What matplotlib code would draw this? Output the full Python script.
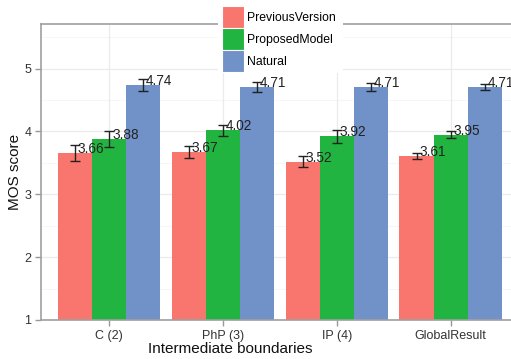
import matplotlib
matplotlib.use("Agg")
import matplotlib.pyplot as plt
import numpy as np
from matplotlib.patches import Patch, Rectangle

categories = ["C (2)", "PhP (3)", "IP (4)", "GlobalResult"]
series = ["PreviousVersion", "ProposedModel", "Natural"]
previous = [3.66, 3.67, 3.52, 3.61]
proposed = [3.88, 4.02, 3.92, 3.95]
natural = [4.74, 4.71, 4.71, 4.71]
previous_err = [0.125, 0.095, 0.09, 0.055]
proposed_err = [0.12, 0.09, 0.10, 0.055]
natural_err = [0.10, 0.075, 0.065, 0.045]

colors = ["#F8766D", "#22B440", "#7191C9"]
values = [previous, proposed, natural]
errors = [previous_err, proposed_err, natural_err]

plt.rcParams["font.family"] = ["Liberation Sans", "DejaVu Sans"]

fig = plt.figure(figsize=(5.11, 3.59), dpi=100)
W, H = 511, 359
left, right, top, bottom = 41, 511, 24, 320
ax = fig.add_axes([left / W, 1 - bottom / H, (right - left) / W, (bottom - top) / H])

x = np.arange(1, len(categories) + 1)
width = 0.3
ax.set_xlim(0.4, 4.53)
ax.set_ylim(1, 5.71)

# grid
for yv in [1, 2, 3, 4, 5]:
    ax.axhline(yv, color="#EBEBEB", lw=0.9, zorder=0)
for yv in [1.5, 2.5, 3.5, 4.5, 5.5]:
    ax.axhline(yv, color="#F5F5F5", lw=0.6, zorder=0)
for xv in x:
    ax.axvline(xv, color="#EBEBEB", lw=0.9, zorder=0)

for i, (vals, errs, col) in enumerate(zip(values, errors, colors)):
    pos = x + (i - 1) * width
    ax.bar(pos, np.array(vals) - 1, width, bottom=1, color=col, zorder=2)
    ax.errorbar(pos, vals, yerr=errs, fmt="none", ecolor="#222222",
                elinewidth=1.0, capsize=3.5, capthick=1.0, zorder=3)
    for p, v in zip(pos, vals):
        ax.annotate(f"{v:.2f}", (p, v), xytext=(2.0, 0), textcoords="offset points",
                    ha="left", va="baseline", fontsize=9.8, color="#222222", zorder=4)

ax.set_xticks(x)
ax.set_xticklabels(categories)
ax.set_yticks([1, 2, 3, 4, 5])
ax.tick_params(axis="both", colors="#999999", labelcolor="#333333", labelsize=9,
               length=4, width=1, pad=3)
for s in ["left", "bottom", "top"]:
    ax.spines[s].set_color("#A0A0A0")
    ax.spines[s].set_linewidth(1.2)
ax.spines["right"].set_visible(False)

ax.set_ylabel("MOS score", fontsize=11, color="#111111")
ax.set_xlabel("Intermediate boundaries", fontsize=11, color="#111111")
ax.yaxis.set_label_coords(-(41 - 22) / 470, 0.5)
ax.xaxis.set_label_coords((230 - 41) / 470, -(342 - 320) / 296)

# legend with a white background box over the top of the panel
fig.add_artist(Rectangle((218 / W, 1 - 73 / H), (343 - 218) / W, 73 / H,
                         transform=fig.transFigure, facecolor="white",
                         edgecolor="none", zorder=3))
handles = [Patch(facecolor=c, edgecolor="white", linewidth=0.8) for c in colors]
leg = fig.legend(handles, series, loc="upper left", bbox_to_anchor=(222 / W, 1 - 6 / H),
                 frameon=False, fontsize=8.8, handlelength=1.8, handleheight=2.4,
                 handletextpad=0.25, labelspacing=0.0, borderpad=0.0, borderaxespad=0)
leg.set_zorder(5)

fig.savefig("out.png", dpi=100)
